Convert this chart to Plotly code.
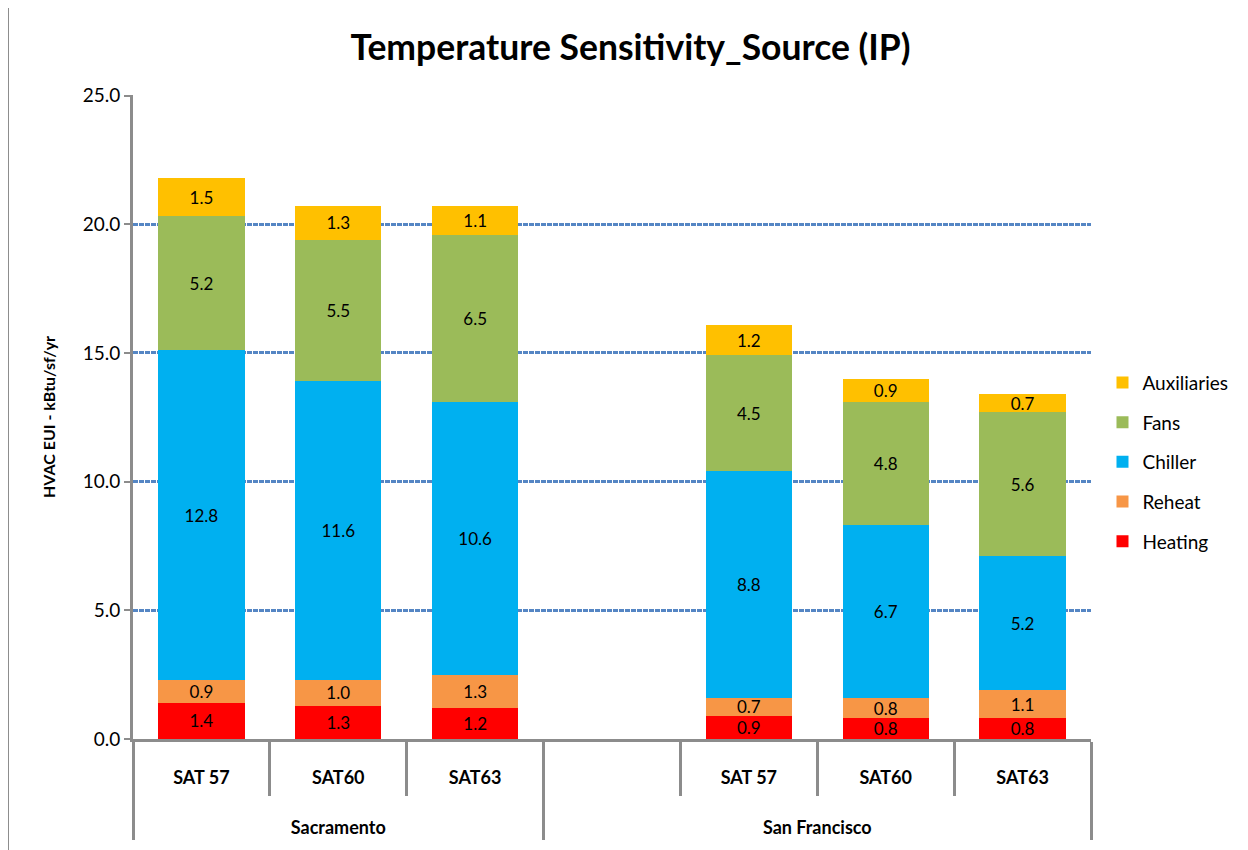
import plotly.graph_objects as go

# categories (empty slot opens the San Francisco group, as in the original workbook)
cities = ["Sacramento"] * 3 + ["San Francisco"] * 4
# zero-width space keeps the San Francisco cases distinct so plotly keeps the order
cases = ["SAT 57", "SAT60", "SAT63", " ",
         "SAT 57\u200b", "SAT60\u200b", "SAT63\u200b"]

# series values, kBtu/sf/yr (bottom to top of each stack)
heating = [1.4, 1.3, 1.2, 0, 0.9, 0.8, 0.8]
reheat = [0.9, 1.0, 1.3, 0, 0.7, 0.8, 1.1]
chiller = [12.8, 11.6, 10.6, 0, 8.8, 6.7, 5.2]
fans = [5.2, 5.5, 6.5, 0, 4.5, 4.8, 5.6]
auxiliaries = [1.5, 1.3, 1.1, 0, 1.2, 0.9, 0.7]

series = [
    ("Heating", heating, "#FF0000"),
    ("Reheat", reheat, "#F79646"),
    ("Chiller", chiller, "#00B0F0"),
    ("Fans", fans, "#9BBB59"),
    ("Auxiliaries", auxiliaries, "#FFC000"),
]

FONT = "Lato, 'Open Sans', sans-serif"

# extra blank lines under each case label push the city row further down
case_labels = [c + "<br>\u00a0<br>\u00a0" for c in cases]

fig = go.Figure()
for i, (name, vals, color) in enumerate(series):
    fig.add_trace(go.Bar(
        x=[cities, case_labels], y=vals, name=name,
        marker=dict(color=color, line=dict(width=0)),
        text=[f"{v:.1f}" if v else "" for v in vals],
        textposition="inside", insidetextanchor="middle", textangle=0,
        textfont=dict(color="black", size=17, family=FONT),
        legendgroup=name, legendrank=len(series) - i,
    ))

# page body adds an 8px offset, so the figure is 8px smaller than the window
fig.update_layout(
    barmode="stack", bargap=0.37,
    width=1240, height=842,
    margin=dict(l=125, r=157, t=87, b=111),
    paper_bgcolor="white", plot_bgcolor="white",
    font=dict(family=FONT, color="black"),
    uniformtext=dict(minsize=17, mode="show"),
    title=dict(text="<b>Temperature Sensitivity_Source (IP)</b>",
               x=0.502, xanchor="center", y=0.953, yanchor="middle",
               font=dict(size=35.5, family=FONT, color="black")),
    legend=dict(x=1.012, xanchor="left", y=0.43, yanchor="middle",
                traceorder="grouped", tracegroupgap=12,
                font=dict(size=19, family=FONT)),
    showlegend=True,
)

fig.update_yaxes(
    range=[0, 25.02], tickvals=[0, 5, 10, 15, 20, 25], tickformat=".1f",
    showgrid=True, gridcolor="#5586C4", gridwidth=2.5, griddash="5px,1px",
    showline=True, linecolor="#8C8C8C", linewidth=3,
    ticks="outside", ticklen=6, tickcolor="#8C8C8C", tickwidth=2,
    tickfont=dict(size=19), zeroline=False,
    title=dict(text="<b>HVAC EUI - kBtu/sf/yr</b>", font=dict(size=16), standoff=24),
)
fig.update_xaxes(
    type="multicategory", tickson="boundaries",
    showline=True, linecolor="#8C8C8C", linewidth=3,
    ticks="outside", ticklen=54, tickcolor="#8C8C8C", tickwidth=3,
    ticklabelstandoff=20,
    showdividers=True, dividercolor="#8C8C8C", dividerwidth=3,
    tickfont=dict(size=18, weight="bold"),
)

# outer chart-area border
fig.add_shape(type="rect", xref="paper", yref="paper",
              x0=-0.1305, x1=1.3, y0=-0.4, y1=1.138,
              line=dict(color="#8C8C8C", width=2), layer="below")

fig.write_html("out.html")
